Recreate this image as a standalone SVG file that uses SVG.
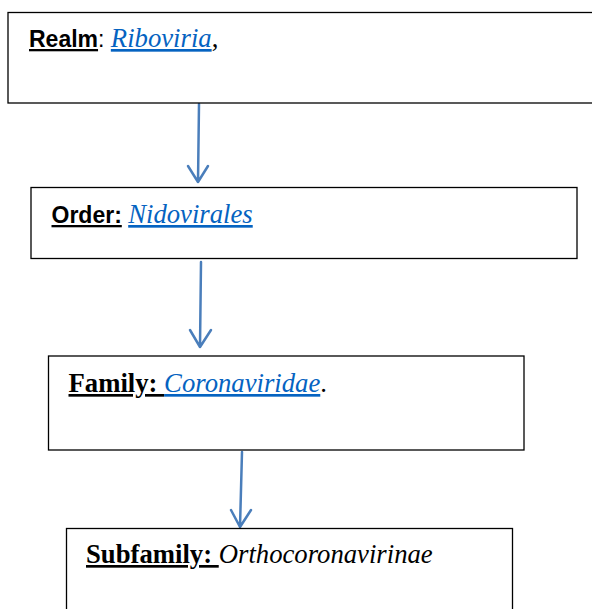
<svg xmlns="http://www.w3.org/2000/svg" width="592" height="609" viewBox="0 0 592 609">
<style>
.box{fill:#fff;stroke:#000;stroke-width:1.3}
.conn{stroke:#4a7ebb;stroke-width:2.5;fill:none;stroke-linecap:round;stroke-linejoin:round}
.sans{font-family:"Liberation Sans",Arial,sans-serif;font-size:23px}
.serif{font-family:"Liberation Serif","Times New Roman",serif;font-size:26.7px}
.lbl{font-weight:bold;text-decoration:underline}
.link{fill:#0563c1;font-style:italic;text-decoration:underline}
.it{font-style:italic}
</style>
<rect width="592" height="609" fill="#fff"/>
<g id="connectors">
<path class="conn" d="M199,104 L198,182 M188,166 L198,182 L208,166"/>
<path class="conn" d="M201,262 L200,347 M190,330 L200,347 L211,330"/>
<path class="conn" d="M242,452 L240,527 M231,510 L240,527 L251,510"/>
</g>
<g id="realm">
<rect class="box" x="8" y="12.5" width="600" height="90.5"/>
<text x="29" y="47"><tspan class="sans lbl">Realm</tspan><tspan class="sans">: </tspan><tspan class="serif link">Riboviria</tspan><tspan class="serif">,</tspan></text>
</g>
<g id="order">
<rect class="box" x="31" y="187.5" width="546" height="71"/>
<text x="51.5" y="223"><tspan class="sans lbl">Order:</tspan><tspan class="sans"> </tspan><tspan class="serif link">Nidovirales</tspan></text>
</g>
<g id="family">
<rect class="box" x="48.5" y="356" width="475.5" height="94"/>
<text x="68.5" y="392"><tspan class="serif lbl">Family: </tspan><tspan class="serif link">Coronaviridae</tspan><tspan class="serif">.</tspan></text>
</g>
<g id="subfamily">
<rect class="box" x="66.5" y="528.5" width="446" height="100"/>
<text x="86" y="563"><tspan class="serif lbl">Subfamily: </tspan><tspan class="serif it">Orthocoronavirinae</tspan></text>
</g>
</svg>
